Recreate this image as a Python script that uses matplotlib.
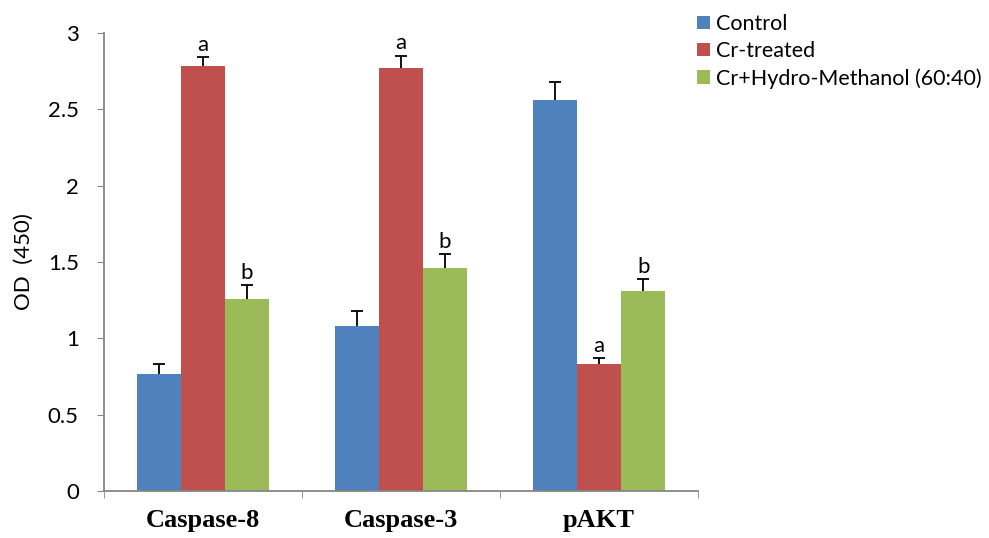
import numpy as np
import matplotlib.pyplot as plt

categories = ['Caspase-8', 'Caspase-3', 'pAKT']
groups = ['Control', 'Cr-treated', 'Cr+Hydro-Methanol (60:40)']
control = [0.77, 1.08, 2.56]
cr_treated = [2.78, 2.77, 0.83]
cr_hm = [1.26, 1.46, 1.31]
control_err = [0.06, 0.10, 0.12]
cr_treated_err = [0.06, 0.08, 0.04]
cr_hm_err = [0.09, 0.09, 0.08]
control_sig = ['', '', '']
cr_treated_sig = ['a', 'a', 'a']
cr_hm_sig = ['b', 'b', 'b']

colors = ['#4f81bd', '#c0504d', '#9bbb59']
axis_col = '#868686'
sans = 'Lato'

fig = plt.figure(figsize=(9.89, 5.38), dpi=100)
ax = fig.add_axes([0.105, 0.087, 0.601, 0.852])

x = np.arange(len(categories))
w = 0.222
series = [(control, control_err, control_sig),
          (cr_treated, cr_treated_err, cr_treated_sig),
          (cr_hm, cr_hm_err, cr_hm_sig)]
for i, (vals, errs, sig) in enumerate(series):
    pos = x + (i - 1) * w
    vals = np.array(vals)
    errs = np.array(errs)
    ax.bar(pos, vals, w, color=colors[i], label=groups[i], zorder=2)
    # upper error only, one cap at the top
    ax.errorbar(pos, vals, yerr=[np.zeros(len(vals)), errs], fmt='none',
                ecolor='black', elinewidth=1.3, capsize=0, zorder=3)
    ax.plot(pos, vals + errs, ls='none', marker='_', ms=9, mew=1.3,
            color='black', zorder=3)
    for p, v, e, s in zip(pos, vals, errs, sig):
        if s:
            ax.text(p, v + e + 0.015, s, ha='center', va='bottom',
                    fontsize=16, family=sans)

ax.set_xlim(-0.5, 2.5)
ax.set_ylim(0, 3)
ax.set_yticks(np.arange(0, 3.01, 0.5))
ax.set_yticklabels(['0', '0.5', '1', '1.5', '2', '2.5', '3'], family=sans, fontsize=16)
ax.set_xticks(x)
ax.set_xticklabels(categories, family='Liberation Serif', fontweight='bold', fontsize=19)
ax.set_xticks([-0.5, 0.5, 1.5, 2.5], minor=True)
ax.tick_params(axis='x', which='major', length=0, pad=13)
ax.tick_params(axis='x', which='minor', length=5, color=axis_col, direction='out')
ax.tick_params(axis='y', length=5, color=axis_col, direction='out', pad=13)
ax.set_ylabel('OD  (450)', family=sans, fontsize=16, labelpad=10)

for s in ['top', 'right']:
    ax.spines[s].set_visible(False)
for s in ['left', 'bottom']:
    ax.spines[s].set_color(axis_col)
    ax.spines[s].set_linewidth(1.3)

fig.legend(loc='upper left', bbox_to_anchor=(0.696, 0.99), borderaxespad=0,
           frameon=False, prop={'family': sans, 'size': 15.5},
           handlelength=0.6, handleheight=0.6, handletextpad=0.3,
           labelspacing=0.33)

fig.savefig('out.png', dpi=100)
